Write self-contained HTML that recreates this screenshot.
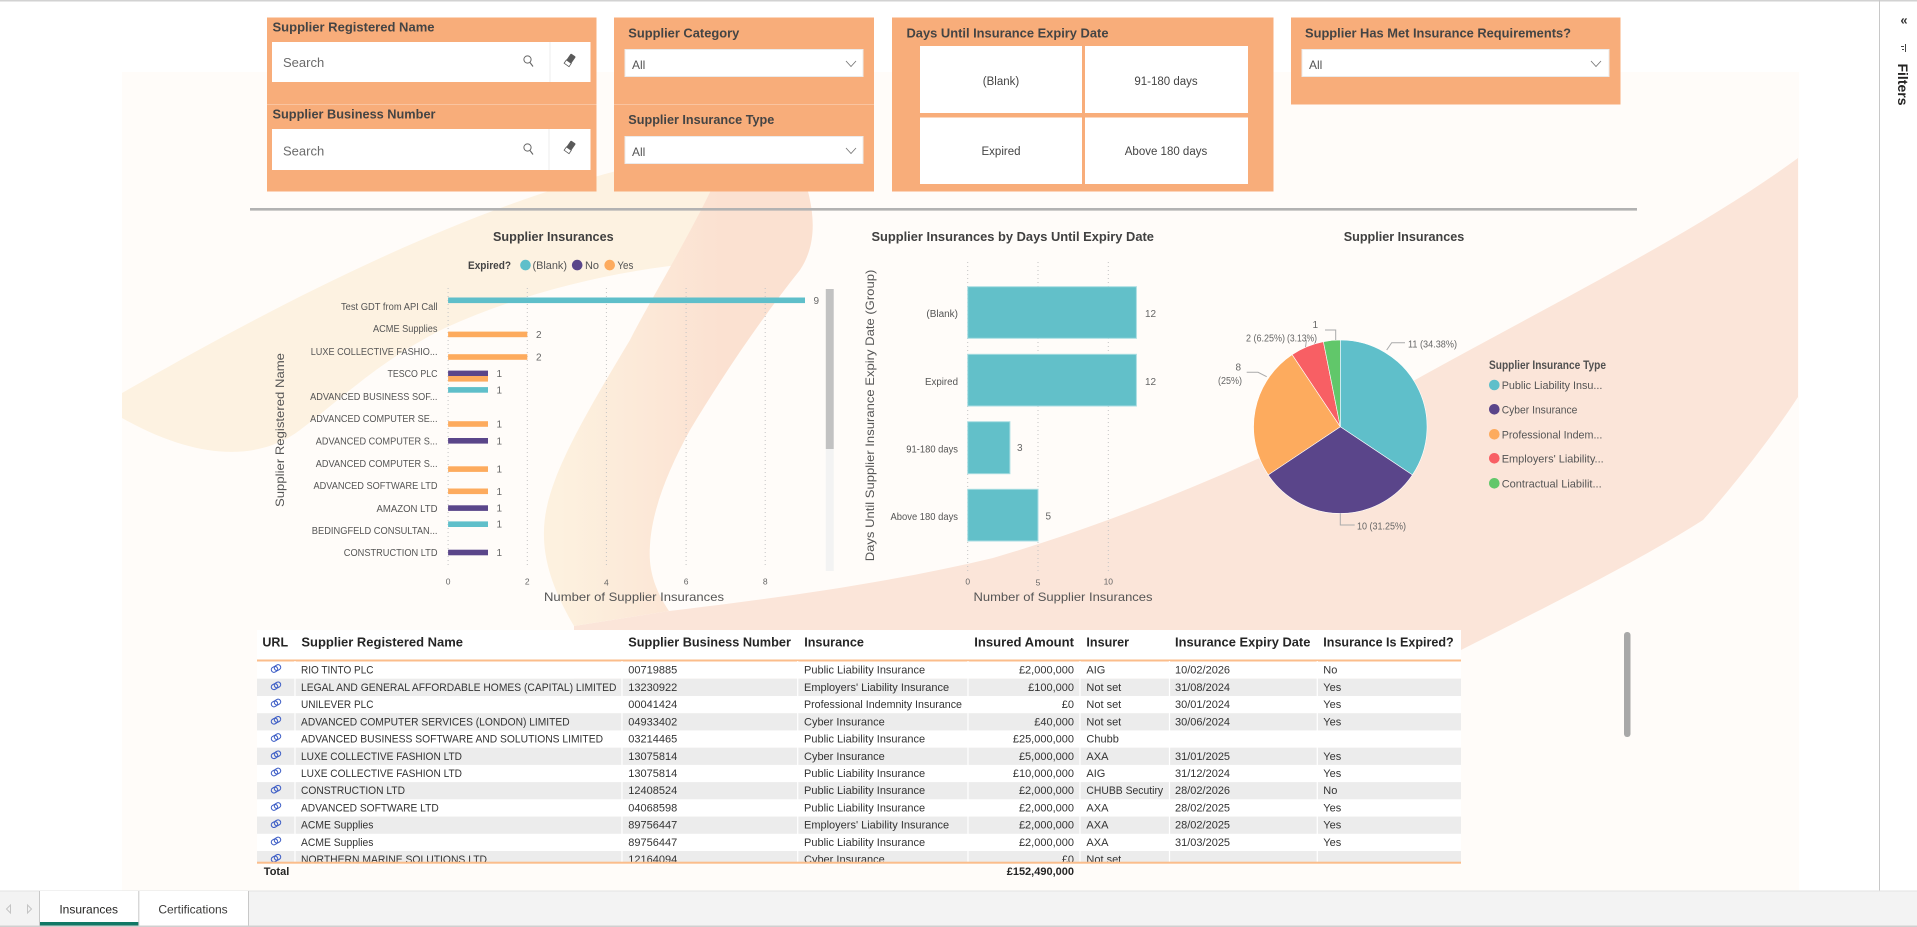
<!DOCTYPE html>
<html>
<head>
<meta charset="utf-8">
<style>
html,body{margin:0;padding:0;background:#fff;overflow:hidden;}
svg{display:block;}
text{font-family:"Liberation Sans",Arial,sans-serif;}
</style>
</head>
<body>
<svg width="1917" height="927" viewBox="0 0 1917 927" xmlns="http://www.w3.org/2000/svg">
<defs>
  <linearGradient id="rib" gradientUnits="userSpaceOnUse" x1="560" y1="0" x2="720" y2="0">
    <stop offset="0" stop-color="#fdf1df"/>
    <stop offset="1" stop-color="#fbe1d1"/>
  </linearGradient>
  <clipPath id="rowsClip"><rect x="250" y="661" width="1220" height="201"/></clipPath>
</defs>

<!-- page background -->
<rect x="0" y="0" width="1917" height="927" fill="#ffffff"/>
<rect x="122" y="72" width="1677" height="819" fill="#fffcf9"/>

<!-- background decorative shapes -->
<path d="M122,393 C250,320 450,210 640,165 L760,150 L760,259 C650,262 540,285 445,328 C380,360 340,400 300,430 C260,460 200,462 122,418 Z" fill="#fdf2e1"/>
<path d="M574,626 L669,611 C760,600 880,585 993,558 C1140,515 1300,445 1424,375 C1560,300 1700,230 1798,158 L1798,397 C1770,440 1730,490 1703,520 C1640,560 1560,600 1461,650 L1461,700 L574,700 Z" fill="#fbe5d9"/>
<path d="M727,155 C700,220 650,300 630,340 C600,390 570,440 555,480 C540,520 535,560 574,626 L669,611 C655,590 648,570 650,545 C652,510 668,470 690,430 C720,380 760,320 800,270 C820,240 815,200 795,155 Z" fill="url(#rib)"/>

<!-- top border -->
<rect x="0" y="0" width="1917" height="1.5" fill="#d2d2d2"/>

<!-- ============ SLICER PANELS ============ -->
<!-- Panel 1 -->
<rect x="267" y="17.5" width="329.5" height="174" fill="#f8ad7a"/>
<line x1="267" y1="104.5" x2="596.5" y2="104.5" stroke="#fac4a0" stroke-width="1"/>
<text x="272.5" y="31.5" font-size="13" font-weight="bold" fill="#444" textLength="162" lengthAdjust="spacingAndGlyphs">Supplier Registered Name</text>
<rect x="272" y="42" width="318.5" height="40" fill="#ffffff"/>
<line x1="550" y1="42" x2="550" y2="82" stroke="#ececec"/>
<text x="283" y="67" font-size="13" fill="#6b6b6b">Search</text>
<circle cx="527.5" cy="59.5" r="3.6" fill="none" stroke="#666" stroke-width="1"/>
<line x1="530" y1="62.5" x2="533" y2="66.5" stroke="#666" stroke-width="1.1"/>
<g transform="translate(570,60) rotate(-55)"><rect x="-6" y="-3" width="12" height="6" rx="1" fill="#5a5a5a"/><rect x="-6" y="-3" width="4" height="6" fill="#fff" stroke="#5a5a5a" stroke-width="0.8"/></g>

<text x="272.5" y="118.5" font-size="13" font-weight="bold" fill="#444" textLength="163" lengthAdjust="spacingAndGlyphs">Supplier Business Number</text>
<rect x="272" y="129" width="318.5" height="41" fill="#ffffff"/>
<line x1="549" y1="129" x2="549" y2="170" stroke="#ececec"/>
<text x="283" y="155.5" font-size="13" fill="#6b6b6b">Search</text>
<circle cx="527.5" cy="147.5" r="3.6" fill="none" stroke="#666" stroke-width="1"/>
<line x1="530" y1="150.5" x2="533" y2="154.5" stroke="#666" stroke-width="1.1"/>
<g transform="translate(570,147) rotate(-55)"><rect x="-6" y="-3" width="12" height="6" rx="1" fill="#5a5a5a"/><rect x="-6" y="-3" width="4" height="6" fill="#fff" stroke="#5a5a5a" stroke-width="0.8"/></g>

<!-- Panel 2 -->
<rect x="614" y="17.5" width="260" height="174" fill="#f8ad7a"/>
<line x1="614" y1="104.5" x2="874" y2="104.5" stroke="#fac4a0" stroke-width="1"/>
<text x="628.3" y="37.5" font-size="13" font-weight="bold" fill="#444" textLength="111" lengthAdjust="spacingAndGlyphs">Supplier Category</text>
<rect x="625" y="49.5" width="238" height="27" fill="#ffffff" stroke="#ebebeb"/>
<text x="632" y="69" font-size="12" fill="#555">All</text>
<polyline points="846,61 851,66.5 856,61" fill="none" stroke="#777" stroke-width="0.9"/>
<text x="628.3" y="124" font-size="13" font-weight="bold" fill="#444" textLength="146" lengthAdjust="spacingAndGlyphs">Supplier Insurance Type</text>
<rect x="625" y="136.5" width="238" height="27" fill="#ffffff" stroke="#ebebeb"/>
<text x="632" y="156" font-size="12" fill="#555">All</text>
<polyline points="846,148 851,153.5 856,148" fill="none" stroke="#777" stroke-width="0.9"/>

<!-- Panel 3 -->
<rect x="892" y="17.5" width="381.5" height="174" fill="#f8ad7a"/>
<text x="906.5" y="37.5" font-size="13" font-weight="bold" fill="#444" textLength="202" lengthAdjust="spacingAndGlyphs">Days Until Insurance Expiry Date</text>
<rect x="920" y="46" width="162" height="67" fill="#ffffff"/>
<rect x="1085" y="46" width="163" height="67" fill="#ffffff"/>
<rect x="920" y="117.5" width="162" height="66.5" fill="#ffffff"/>
<rect x="1085" y="117.5" width="163" height="66.5" fill="#ffffff"/>
<text x="1001" y="85" font-size="11.5" fill="#444" text-anchor="middle">(Blank)</text>
<text x="1166" y="85" font-size="11.5" fill="#444" text-anchor="middle">91-180 days</text>
<text x="1001" y="155" font-size="11.5" fill="#444" text-anchor="middle">Expired</text>
<text x="1166" y="155" font-size="11.5" fill="#444" text-anchor="middle">Above 180 days</text>

<!-- Panel 4 -->
<rect x="1291" y="17.5" width="329.5" height="87" fill="#f8ad7a"/>
<text x="1305" y="37.5" font-size="13" font-weight="bold" fill="#444" textLength="266" lengthAdjust="spacingAndGlyphs">Supplier Has Met Insurance Requirements?</text>
<rect x="1302" y="49.5" width="307" height="27" fill="#ffffff" stroke="#ebebeb"/>
<text x="1309" y="69" font-size="12" fill="#555">All</text>
<polyline points="1591,61 1596,66.5 1601,61" fill="none" stroke="#777" stroke-width="0.9"/>

<!-- separator -->
<line x1="250" y1="209.3" x2="1637" y2="209.3" stroke="#b2b2b2" stroke-width="2.6"/>

<!-- ============ CHART 1: bar chart ============ -->
<text x="553.3" y="241" font-size="13" font-weight="bold" fill="#404040" text-anchor="middle" textLength="120.6" lengthAdjust="spacingAndGlyphs">Supplier Insurances</text>
<text x="468" y="269" font-size="11" font-weight="bold" fill="#444" textLength="43" lengthAdjust="spacingAndGlyphs">Expired?</text>
<circle cx="525.5" cy="265.1" r="5.3" fill="#5fbfca"/>
<text x="532.5" y="269" font-size="11" fill="#555" textLength="34.5" lengthAdjust="spacingAndGlyphs">(Blank)</text>
<circle cx="577.2" cy="265.1" r="5.3" fill="#5a468a"/>
<text x="585" y="269" font-size="11" fill="#555" textLength="14" lengthAdjust="spacingAndGlyphs">No</text>
<circle cx="609.7" cy="265.1" r="5.3" fill="#fdab5e"/>
<text x="617.4" y="269" font-size="11" fill="#555" textLength="16" lengthAdjust="spacingAndGlyphs">Yes</text>

<g stroke="#c4c4c4" stroke-width="1" stroke-dasharray="1,3">
  <line x1="448.1" y1="288" x2="448.1" y2="566"/>
  <line x1="527.3" y1="288" x2="527.3" y2="566"/>
  <line x1="606.4" y1="288" x2="606.4" y2="566"/>
  <line x1="686.1" y1="288" x2="686.1" y2="566"/>
  <line x1="765.2" y1="288" x2="765.2" y2="566"/>
</g>

<g font-size="10" fill="#555" text-anchor="end">
  <text x="437.5" y="310" textLength="96.5" lengthAdjust="spacingAndGlyphs">Test GDT from API Call</text>
  <text x="437.5" y="332.2" textLength="64.5" lengthAdjust="spacingAndGlyphs">ACME Supplies</text>
  <text x="437.5" y="355.1" textLength="126.8" lengthAdjust="spacingAndGlyphs">LUXE COLLECTIVE FASHIO...</text>
  <text x="437.5" y="376.9" textLength="50" lengthAdjust="spacingAndGlyphs">TESCO PLC</text>
  <text x="437.5" y="399.9" textLength="127.4" lengthAdjust="spacingAndGlyphs">ADVANCED BUSINESS SOF...</text>
  <text x="437.5" y="422.1" textLength="127.4" lengthAdjust="spacingAndGlyphs">ADVANCED COMPUTER SE...</text>
  <text x="437.5" y="444.3" textLength="121.7" lengthAdjust="spacingAndGlyphs">ADVANCED COMPUTER S...</text>
  <text x="437.5" y="467.2" textLength="121.7" lengthAdjust="spacingAndGlyphs">ADVANCED COMPUTER S...</text>
  <text x="437.5" y="489.1" textLength="124" lengthAdjust="spacingAndGlyphs">ADVANCED SOFTWARE LTD</text>
  <text x="437.5" y="512" textLength="61" lengthAdjust="spacingAndGlyphs">AMAZON LTD</text>
  <text x="437.5" y="533.8" textLength="125.7" lengthAdjust="spacingAndGlyphs">BEDINGFELD CONSULTAN...</text>
  <text x="437.5" y="556" textLength="93.7" lengthAdjust="spacingAndGlyphs">CONSTRUCTION LTD</text>
</g>

<g>
  <rect x="448.1" y="297.5" width="356.9" height="5.6" fill="#5fbfca"/>
  <rect x="448.1" y="331.6" width="79.2" height="5.6" fill="#fdab5e"/>
  <rect x="448.1" y="354.2" width="79.2" height="5.6" fill="#fdab5e"/>
  <rect x="448.1" y="370.6" width="39.9" height="5.6" fill="#5a468a"/>
  <rect x="448.1" y="376.0" width="39.9" height="5.6" fill="#fdab5e"/>
  <rect x="448.1" y="387.1" width="39.9" height="5.6" fill="#5fbfca"/>
  <rect x="448.1" y="421.2" width="39.9" height="5.6" fill="#fdab5e"/>
  <rect x="448.1" y="438.0" width="39.9" height="5.6" fill="#5a468a"/>
  <rect x="448.1" y="466.3" width="39.9" height="5.6" fill="#fdab5e"/>
  <rect x="448.1" y="488.5" width="39.9" height="5.6" fill="#fdab5e"/>
  <rect x="448.1" y="505.3" width="39.9" height="5.6" fill="#5a468a"/>
  <rect x="448.1" y="521.4" width="39.9" height="5.6" fill="#5fbfca"/>
  <rect x="448.1" y="549.7" width="39.9" height="5.6" fill="#5a468a"/>
</g>
<g font-size="10" fill="#666">
  <text x="813.5" y="303.8">9</text>
  <text x="536" y="338">2</text>
  <text x="536" y="360.5">2</text>
  <text x="496.5" y="377">1</text>
  <text x="496.5" y="393.4">1</text>
  <text x="496.5" y="427.5">1</text>
  <text x="496.5" y="444.3">1</text>
  <text x="496.5" y="472.6">1</text>
  <text x="496.5" y="494.8">1</text>
  <text x="496.5" y="511.6">1</text>
  <text x="496.5" y="527.7">1</text>
  <text x="496.5" y="556">1</text>
</g>
<g font-size="8.5" fill="#666" text-anchor="middle">
  <text x="448.1" y="584.5">0</text>
  <text x="527.3" y="584.5">2</text>
  <text x="606.4" y="585.5">4</text>
  <text x="686.1" y="584.5">6</text>
  <text x="765.2" y="584.5">8</text>
</g>
<text x="634" y="601" font-size="12" fill="#555" text-anchor="middle" textLength="180" lengthAdjust="spacingAndGlyphs">Number of Supplier Insurances</text>
<text transform="translate(283.8,430) rotate(-90)" font-size="12" fill="#555" text-anchor="middle" textLength="154" lengthAdjust="spacingAndGlyphs">Supplier Registered Name</text>
<!-- scrollbar -->
<rect x="825.8" y="289" width="7.9" height="282" fill="#f3f3f3"/>
<rect x="825.8" y="289" width="7.9" height="160" fill="#c2c2c2"/>

<!-- ============ CHART 2 ============ -->
<text x="1012.7" y="241" font-size="13" font-weight="bold" fill="#404040" text-anchor="middle" textLength="282.5" lengthAdjust="spacingAndGlyphs">Supplier Insurances by Days Until Expiry Date</text>
<g stroke="#c4c4c4" stroke-width="1" stroke-dasharray="1,3">
  <line x1="967.7" y1="262" x2="967.7" y2="572"/>
  <line x1="1038" y1="262" x2="1038" y2="572"/>
  <line x1="1108.3" y1="262" x2="1108.3" y2="572"/>
</g>
<g fill="#62c0c9" stroke="#a9dde2" stroke-width="1">
  <rect x="967.7" y="286.7" width="168.7" height="51.6"/>
  <rect x="967.7" y="354.3" width="168.7" height="51.7"/>
  <rect x="967.7" y="421.7" width="42.2" height="52"/>
  <rect x="967.7" y="489.3" width="70.3" height="51.7"/>
</g>
<g font-size="10" fill="#555" text-anchor="end">
  <text x="958" y="317" textLength="31.6" lengthAdjust="spacingAndGlyphs">(Blank)</text>
  <text x="958" y="385" textLength="33" lengthAdjust="spacingAndGlyphs">Expired</text>
  <text x="958" y="452.5" textLength="51.7" lengthAdjust="spacingAndGlyphs">91-180 days</text>
  <text x="958" y="520" textLength="67.5" lengthAdjust="spacingAndGlyphs">Above 180 days</text>
</g>
<g font-size="10" fill="#666">
  <text x="1145" y="317">12</text>
  <text x="1145" y="385">12</text>
  <text x="1017" y="451">3</text>
  <text x="1045.5" y="519.5">5</text>
</g>
<g font-size="8.5" fill="#666" text-anchor="middle">
  <text x="967.7" y="584.5">0</text>
  <text x="1038" y="585.5">5</text>
  <text x="1108.3" y="584.5">10</text>
</g>
<text x="1063" y="601" font-size="12" fill="#555" text-anchor="middle" textLength="179" lengthAdjust="spacingAndGlyphs">Number of Supplier Insurances</text>
<text transform="translate(874,415.5) rotate(-90)" font-size="12" fill="#555" text-anchor="middle" textLength="291.6" lengthAdjust="spacingAndGlyphs">Days Until Supplier Insurance Expiry Date (Group)</text>

<!-- ============ CHART 3: PIE ============ -->
<text x="1404" y="241" font-size="13" font-weight="bold" fill="#404040" text-anchor="middle" textLength="120.5" lengthAdjust="spacingAndGlyphs">Supplier Insurances</text>
<g stroke="#ffffff" stroke-width="0.6">
  <path d="M1340.3,426.7 L1340.3,340 A86.7,86.7 0 0 1 1412.4,474.9 Z" fill="#5fbfca"/>
  <path d="M1340.3,426.7 L1412.4,474.9 A86.7,86.7 0 0 1 1268.2,474.9 Z" fill="#5a458a"/>
  <path d="M1340.3,426.7 L1268.2,474.9 A86.7,86.7 0 0 1 1292.1,354.6 Z" fill="#fdab5e"/>
  <path d="M1340.3,426.7 L1292.1,354.6 A86.7,86.7 0 0 1 1323.4,341.7 Z" fill="#f85f64"/>
  <path d="M1340.3,426.7 L1323.4,341.7 A86.7,86.7 0 0 1 1340.3,340 Z" fill="#61c76a"/>
</g>
<g fill="none" stroke="#aaaaaa" stroke-width="1">
  <polyline points="1386.7,350 1391.7,342.7 1405,342.7"/>
  <polyline points="1340.3,513.4 1340.3,525 1354.7,525"/>
  <polyline points="1266.7,376.7 1258,372.3 1246.7,372.3"/>
  <polyline points="1335.7,340 1335.7,330 1325,330"/>
  <polyline points="1305.5,347 1306.5,340"/>
</g>
<g font-size="10" fill="#666">
  <text x="1408" y="347.5" textLength="49" lengthAdjust="spacingAndGlyphs">11 (34.38%)</text>
  <text x="1357" y="529.5" textLength="49" lengthAdjust="spacingAndGlyphs">10 (31.25%)</text>
  <text x="1235.5" y="370.5">8</text>
  <text x="1218" y="384" textLength="24" lengthAdjust="spacingAndGlyphs">(25%)</text>
  <text x="1246" y="341.5" textLength="39" lengthAdjust="spacingAndGlyphs">2 (6.25%)</text>
  <text x="1287" y="341.5" textLength="30" lengthAdjust="spacingAndGlyphs">(3.13%)</text>
  <text x="1312.5" y="328">1</text>
</g>
<text x="1489" y="369" font-size="11.5" font-weight="bold" fill="#505050" textLength="117" lengthAdjust="spacingAndGlyphs">Supplier Insurance Type</text>
<circle cx="1494.3" cy="385" r="5.3" fill="#5fbfca"/>
<circle cx="1494.3" cy="409.3" r="5.3" fill="#5a458a"/>
<circle cx="1494.3" cy="434.3" r="5.3" fill="#fdab5e"/>
<circle cx="1494.3" cy="458.3" r="5.3" fill="#f85f64"/>
<circle cx="1494.3" cy="483.3" r="5.3" fill="#61c76a"/>
<g font-size="11" fill="#555">
  <text x="1501.7" y="389" textLength="100.7" lengthAdjust="spacingAndGlyphs">Public Liability Insu...</text>
  <text x="1501.7" y="413.3" textLength="75.7" lengthAdjust="spacingAndGlyphs">Cyber Insurance</text>
  <text x="1501.7" y="438.3" textLength="100.7" lengthAdjust="spacingAndGlyphs">Professional Indem...</text>
  <text x="1501.7" y="462.3" textLength="102" lengthAdjust="spacingAndGlyphs">Employers' Liability...</text>
  <text x="1501.7" y="487.3" textLength="100" lengthAdjust="spacingAndGlyphs">Contractual Liabilit...</text>
</g>

<!-- ============ TABLE ============ -->
<rect x="257" y="630" width="1204" height="30" fill="#ffffff"/>
<g font-size="13" font-weight="bold" fill="#252525">
  <text x="262.4" y="646.5" textLength="25.7" lengthAdjust="spacingAndGlyphs">URL</text>
  <text x="301.4" y="646.5" textLength="161.6" lengthAdjust="spacingAndGlyphs">Supplier Registered Name</text>
  <text x="628.3" y="646.5" textLength="162.6" lengthAdjust="spacingAndGlyphs">Supplier Business Number</text>
  <text x="804.2" y="646.5" textLength="59.7" lengthAdjust="spacingAndGlyphs">Insurance</text>
  <text x="974.3" y="646.5" textLength="99.7" lengthAdjust="spacingAndGlyphs">Insured Amount</text>
  <text x="1086.4" y="646.5" textLength="42.7" lengthAdjust="spacingAndGlyphs">Insurer</text>
  <text x="1175" y="646.5" textLength="135.4" lengthAdjust="spacingAndGlyphs">Insurance Expiry Date</text>
  <text x="1323.3" y="646.5" textLength="130.4" lengthAdjust="spacingAndGlyphs">Insurance Is Expired?</text>
</g>
<rect x="257" y="659.5" width="1204" height="2" fill="#fbbd8b"/>

<g clip-path="url(#rowsClip)">
  <rect x="257" y="661.5" width="1204" height="17.3" fill="#ffffff"/>
  <rect x="257" y="678.7" width="1204" height="17.3" fill="#ececec"/>
  <rect x="257" y="696" width="1204" height="17.3" fill="#ffffff"/>
  <rect x="257" y="713.2" width="1204" height="17.3" fill="#ececec"/>
  <rect x="257" y="730.4" width="1204" height="17.3" fill="#ffffff"/>
  <rect x="257" y="747.7" width="1204" height="17.3" fill="#ececec"/>
  <rect x="257" y="764.9" width="1204" height="17.3" fill="#ffffff"/>
  <rect x="257" y="782.1" width="1204" height="17.3" fill="#ececec"/>
  <rect x="257" y="799.3" width="1204" height="17.3" fill="#ffffff"/>
  <rect x="257" y="816.6" width="1204" height="17.3" fill="#ececec"/>
  <rect x="257" y="833.8" width="1204" height="17.3" fill="#ffffff"/>
  <rect x="257" y="851" width="1204" height="17.3" fill="#ececec"/>
  <g stroke="#ffffff" stroke-width="1.2">
    <line x1="295" y1="661" x2="295" y2="862"/>
    <line x1="622" y1="661" x2="622" y2="862"/>
    <line x1="797.7" y1="661" x2="797.7" y2="862"/>
    <line x1="968" y1="661" x2="968" y2="862"/>
    <line x1="1080" y1="661" x2="1080" y2="862"/>
    <line x1="1169.5" y1="661" x2="1169.5" y2="862"/>
    <line x1="1317.3" y1="661" x2="1317.3" y2="862"/>
  </g>
  <!-- link icons -->
  <g fill="none" stroke="#3f5fc6" stroke-width="1.1">
    <g transform="translate(276,668.5) rotate(-30)"><rect x="-5" y="-2.6" width="6.5" height="5.2" rx="2.6"/><rect x="-1.5" y="-2.6" width="6.5" height="5.2" rx="2.6"/></g>
    <g transform="translate(276,685.8) rotate(-30)"><rect x="-5" y="-2.6" width="6.5" height="5.2" rx="2.6"/><rect x="-1.5" y="-2.6" width="6.5" height="5.2" rx="2.6"/></g>
    <g transform="translate(276,703) rotate(-30)"><rect x="-5" y="-2.6" width="6.5" height="5.2" rx="2.6"/><rect x="-1.5" y="-2.6" width="6.5" height="5.2" rx="2.6"/></g>
    <g transform="translate(276,720.3) rotate(-30)"><rect x="-5" y="-2.6" width="6.5" height="5.2" rx="2.6"/><rect x="-1.5" y="-2.6" width="6.5" height="5.2" rx="2.6"/></g>
    <g transform="translate(276,737.5) rotate(-30)"><rect x="-5" y="-2.6" width="6.5" height="5.2" rx="2.6"/><rect x="-1.5" y="-2.6" width="6.5" height="5.2" rx="2.6"/></g>
    <g transform="translate(276,754.8) rotate(-30)"><rect x="-5" y="-2.6" width="6.5" height="5.2" rx="2.6"/><rect x="-1.5" y="-2.6" width="6.5" height="5.2" rx="2.6"/></g>
    <g transform="translate(276,772) rotate(-30)"><rect x="-5" y="-2.6" width="6.5" height="5.2" rx="2.6"/><rect x="-1.5" y="-2.6" width="6.5" height="5.2" rx="2.6"/></g>
    <g transform="translate(276,789.2) rotate(-30)"><rect x="-5" y="-2.6" width="6.5" height="5.2" rx="2.6"/><rect x="-1.5" y="-2.6" width="6.5" height="5.2" rx="2.6"/></g>
    <g transform="translate(276,806.5) rotate(-30)"><rect x="-5" y="-2.6" width="6.5" height="5.2" rx="2.6"/><rect x="-1.5" y="-2.6" width="6.5" height="5.2" rx="2.6"/></g>
    <g transform="translate(276,823.7) rotate(-30)"><rect x="-5" y="-2.6" width="6.5" height="5.2" rx="2.6"/><rect x="-1.5" y="-2.6" width="6.5" height="5.2" rx="2.6"/></g>
    <g transform="translate(276,841) rotate(-30)"><rect x="-5" y="-2.6" width="6.5" height="5.2" rx="2.6"/><rect x="-1.5" y="-2.6" width="6.5" height="5.2" rx="2.6"/></g>
    <g transform="translate(276,858.2) rotate(-30)"><rect x="-5" y="-2.6" width="6.5" height="5.2" rx="2.6"/><rect x="-1.5" y="-2.6" width="6.5" height="5.2" rx="2.6"/></g>
  </g>
  <g font-size="11" fill="#333">
    <!-- row 1 -->
    <text x="301" y="673.5" textLength="72.5" lengthAdjust="spacingAndGlyphs">RIO TINTO PLC</text>
    <text x="628.3" y="673.5">00719885</text>
    <text x="804" y="673.5">Public Liability Insurance</text>
    <text x="1074" y="673.5" text-anchor="end">£2,000,000</text>
    <text x="1086.4" y="673.5">AIG</text>
    <text x="1175" y="673.5">10/02/2026</text>
    <text x="1323.3" y="673.5">No</text>
    <!-- row 2 -->
    <text x="301" y="690.8" textLength="315.5" lengthAdjust="spacingAndGlyphs">LEGAL AND GENERAL AFFORDABLE HOMES (CAPITAL) LIMITED</text>
    <text x="628.3" y="690.8">13230922</text>
    <text x="804" y="690.8">Employers' Liability Insurance</text>
    <text x="1074" y="690.8" text-anchor="end">£100,000</text>
    <text x="1086.4" y="690.8">Not set</text>
    <text x="1175" y="690.8">31/08/2024</text>
    <text x="1323.3" y="690.8">Yes</text>
    <!-- row 3 -->
    <text x="301" y="708" textLength="72.5" lengthAdjust="spacingAndGlyphs">UNILEVER PLC</text>
    <text x="628.3" y="708">00041424</text>
    <text x="804" y="708" textLength="158" lengthAdjust="spacingAndGlyphs">Professional Indemnity Insurance</text>
    <text x="1074" y="708" text-anchor="end">£0</text>
    <text x="1086.4" y="708">Not set</text>
    <text x="1175" y="708">30/01/2024</text>
    <text x="1323.3" y="708">Yes</text>
    <!-- row 4 -->
    <text x="301" y="725.3" textLength="268.6" lengthAdjust="spacingAndGlyphs">ADVANCED COMPUTER SERVICES (LONDON) LIMITED</text>
    <text x="628.3" y="725.3">04933402</text>
    <text x="804" y="725.3">Cyber Insurance</text>
    <text x="1074" y="725.3" text-anchor="end">£40,000</text>
    <text x="1086.4" y="725.3">Not set</text>
    <text x="1175" y="725.3">30/06/2024</text>
    <text x="1323.3" y="725.3">Yes</text>
    <!-- row 5 -->
    <text x="301" y="742.5" textLength="302" lengthAdjust="spacingAndGlyphs">ADVANCED BUSINESS SOFTWARE AND SOLUTIONS LIMITED</text>
    <text x="628.3" y="742.5">03214465</text>
    <text x="804" y="742.5">Public Liability Insurance</text>
    <text x="1074" y="742.5" text-anchor="end">£25,000,000</text>
    <text x="1086.4" y="742.5">Chubb</text>
    <!-- row 6 -->
    <text x="301" y="759.8" textLength="161" lengthAdjust="spacingAndGlyphs">LUXE COLLECTIVE FASHION LTD</text>
    <text x="628.3" y="759.8">13075814</text>
    <text x="804" y="759.8">Cyber Insurance</text>
    <text x="1074" y="759.8" text-anchor="end">£5,000,000</text>
    <text x="1086.4" y="759.8">AXA</text>
    <text x="1175" y="759.8">31/01/2025</text>
    <text x="1323.3" y="759.8">Yes</text>
    <!-- row 7 -->
    <text x="301" y="777" textLength="161" lengthAdjust="spacingAndGlyphs">LUXE COLLECTIVE FASHION LTD</text>
    <text x="628.3" y="777">13075814</text>
    <text x="804" y="777">Public Liability Insurance</text>
    <text x="1074" y="777" text-anchor="end">£10,000,000</text>
    <text x="1086.4" y="777">AIG</text>
    <text x="1175" y="777">31/12/2024</text>
    <text x="1323.3" y="777">Yes</text>
    <!-- row 8 -->
    <text x="301" y="794.2" textLength="104" lengthAdjust="spacingAndGlyphs">CONSTRUCTION LTD</text>
    <text x="628.3" y="794.2">12408524</text>
    <text x="804" y="794.2">Public Liability Insurance</text>
    <text x="1074" y="794.2" text-anchor="end">£2,000,000</text>
    <text x="1086.4" y="794.2" textLength="76.7" lengthAdjust="spacingAndGlyphs">CHUBB Secutiry</text>
    <text x="1175" y="794.2">28/02/2026</text>
    <text x="1323.3" y="794.2">No</text>
    <!-- row 9 -->
    <text x="301" y="811.5" textLength="137.7" lengthAdjust="spacingAndGlyphs">ADVANCED SOFTWARE LTD</text>
    <text x="628.3" y="811.5">04068598</text>
    <text x="804" y="811.5">Public Liability Insurance</text>
    <text x="1074" y="811.5" text-anchor="end">£2,000,000</text>
    <text x="1086.4" y="811.5">AXA</text>
    <text x="1175" y="811.5">28/02/2025</text>
    <text x="1323.3" y="811.5">Yes</text>
    <!-- row 10 -->
    <text x="301" y="828.7" textLength="72.5" lengthAdjust="spacingAndGlyphs">ACME Supplies</text>
    <text x="628.3" y="828.7">89756447</text>
    <text x="804" y="828.7">Employers' Liability Insurance</text>
    <text x="1074" y="828.7" text-anchor="end">£2,000,000</text>
    <text x="1086.4" y="828.7">AXA</text>
    <text x="1175" y="828.7">28/02/2025</text>
    <text x="1323.3" y="828.7">Yes</text>
    <!-- row 11 -->
    <text x="301" y="846" textLength="72.5" lengthAdjust="spacingAndGlyphs">ACME Supplies</text>
    <text x="628.3" y="846">89756447</text>
    <text x="804" y="846">Public Liability Insurance</text>
    <text x="1074" y="846" text-anchor="end">£2,000,000</text>
    <text x="1086.4" y="846">AXA</text>
    <text x="1175" y="846">31/03/2025</text>
    <text x="1323.3" y="846">Yes</text>
    <!-- row 12 -->
    <text x="301" y="863.2" textLength="186" lengthAdjust="spacingAndGlyphs">NORTHERN MARINE SOLUTIONS LTD</text>
    <text x="628.3" y="863.2">12164094</text>
    <text x="804" y="863.2">Cyber Insurance</text>
    <text x="1074" y="863.2" text-anchor="end">£0</text>
    <text x="1086.4" y="863.2">Not set</text>
  </g>
</g>
<rect x="257" y="861.7" width="1204" height="2" fill="#fbbd8b"/>
<text x="263.8" y="874.8" font-size="11" font-weight="bold" fill="#252525">Total</text>
<text x="1074" y="874.8" font-size="11" font-weight="bold" fill="#252525" text-anchor="end">£152,490,000</text>

<!-- table scrollbar -->
<rect x="1624" y="632" width="6.5" height="105" rx="3" fill="#a8a8a8"/>

<!-- ============ FILTER PANE ============ -->
<rect x="1880" y="1.5" width="37" height="890" fill="#ffffff"/>
<line x1="1879.5" y1="0" x2="1879.5" y2="891" stroke="#c8c8c8" stroke-width="1"/>
<text x="1904" y="24.5" font-size="13" font-weight="bold" fill="#333" text-anchor="middle">«</text>
<g stroke="#444" stroke-width="1">
  <line x1="1905.5" y1="44" x2="1905.5" y2="52"/>
  <line x1="1901" y1="46.5" x2="1904" y2="46.5"/>
  <line x1="1902" y1="49.5" x2="1904" y2="49.5"/>
</g>
<text transform="translate(1898,84.5) rotate(90)" font-size="13.5" font-weight="bold" fill="#252423" text-anchor="middle" textLength="42" lengthAdjust="spacingAndGlyphs">Filters</text>

<!-- ============ TAB BAR ============ -->
<rect x="0" y="891" width="1917" height="36" fill="#f3f3f3"/>
<line x1="0" y1="891" x2="1917" y2="891" stroke="#e3e3e3"/>
<rect x="40" y="891" width="98.5" height="35" fill="#ffffff"/>
<rect x="139" y="891" width="109" height="35" fill="#ffffff"/>
<rect x="40" y="922" width="98.5" height="4" fill="#117865"/>
<g stroke="#c8c8c8" stroke-width="1">
  <line x1="39.5" y1="891" x2="39.5" y2="926"/>
  <line x1="138.8" y1="891" x2="138.8" y2="926"/>
  <line x1="248.5" y1="891" x2="248.5" y2="926"/>
</g>
<line x1="0" y1="926.2" x2="1917" y2="926.2" stroke="#d0d0d0" stroke-width="1.5"/>
<polygon points="10.5,905 6.5,909 10.5,913" fill="none" stroke="#c4c4c4" stroke-width="1"/>
<polygon points="27.5,905 31.5,909 27.5,913" fill="none" stroke="#c4c4c4" stroke-width="1"/>
<text x="88.7" y="913.5" font-size="12" fill="#252423" text-anchor="middle">Insurances</text>
<text x="193" y="913.5" font-size="12" fill="#3b3a39" text-anchor="middle">Certifications</text>
</svg>
</body>
</html>
